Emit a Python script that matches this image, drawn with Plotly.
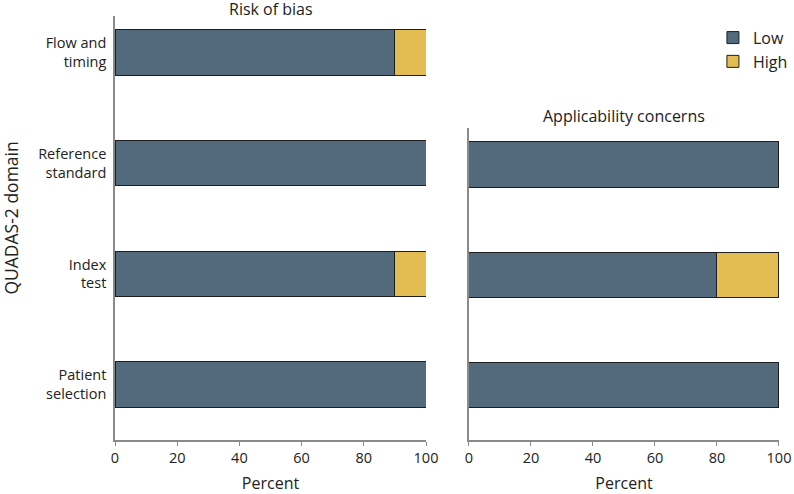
import plotly.graph_objects as go

domains_rob = ["Patient<br>selection", "Index<br>test", "Reference<br>standard", "Flow and<br>timing"]
rob_low = [100, 90, 100, 90]
rob_high = [0, 10, 0, 10]

domains_app = ["Patient<br>selection", "Index<br>test", "Reference<br>standard"]
app_low = [100, 80, 100]
app_high = [0, 20, 0]

x_ticks = [0, 20, 40, 60, 80, 100]

C_LOW = "#536a7c"
C_HIGH = "#e4bd52"
EDGE = "#1e1e1e"
FONT = "Open Sans"

fig = go.Figure()
fig.add_trace(go.Bar(y=domains_rob, x=rob_low, orientation="h", name="Low",
                     marker=dict(color=C_LOW, line=dict(color=EDGE, width=1)),
                     xaxis="x", yaxis="y", legendgroup="low"))
fig.add_trace(go.Bar(y=domains_rob, x=rob_high, orientation="h", name="High",
                     marker=dict(color=C_HIGH, line=dict(color=EDGE, width=1)),
                     xaxis="x", yaxis="y", legendgroup="high"))
fig.add_trace(go.Bar(y=domains_app, x=app_low, orientation="h", name="Low",
                     marker=dict(color=C_LOW, line=dict(color=EDGE, width=1)),
                     xaxis="x2", yaxis="y2", legendgroup="low", showlegend=False))
fig.add_trace(go.Bar(y=domains_app, x=app_high, orientation="h", name="High",
                     marker=dict(color=C_HIGH, line=dict(color=EDGE, width=1)),
                     xaxis="x2", yaxis="y2", legendgroup="high", showlegend=False))

axis_common = dict(showgrid=False, zeroline=False, showline=True, linecolor="#8a8a8a",
                   linewidth=1.5)
xcommon = dict(axis_common, range=[0, 100], tickvals=x_ticks, ticks="outside",
               ticklen=4, tickcolor="#8a8a8a",
               title=dict(text="Percent", font=dict(size=16, color="#222"), standoff=24),
               tickfont=dict(size=14.5, color="#222"))

fig.update_layout(
    width=794, height=494,
    margin=dict(l=115, r=15, t=16, b=54, autoexpand=False),
    paper_bgcolor="white", plot_bgcolor="white",
    barmode="stack", bargap=0.59,
    font=dict(family=FONT, size=14, color="#222"),
    xaxis=dict(xcommon, domain=[0, 0.4684], anchor="y"),
    xaxis2=dict(xcommon, domain=[0.5331, 1.0], anchor="y2"),
    yaxis=dict(axis_common, domain=[0, 1], range=[-0.5, 3.33], type="category",
               categoryorder="array", categoryarray=domains_rob,
               ticks="", ticklabelstandoff=4,
               tickfont=dict(size=14.5, color="#222"), anchor="x"),
    yaxis2=dict(axis_common, domain=[0, 0.7358], range=[-0.5, 2.33], type="category",
                categoryorder="array", categoryarray=domains_app,
                showticklabels=False, ticks="", anchor="x2"),
    legend=dict(x=0.9005, y=0.989, xanchor="left", yanchor="top", traceorder="normal",
                font=dict(size=16, color="#222"), bgcolor="rgba(0,0,0,0)",
                itemwidth=30, tracegroupgap=4),
    annotations=[
        dict(text="Risk of bias", xref="paper", yref="paper", x=0.4684 / 2, y=1.0,
             xanchor="center", yanchor="bottom", yshift=-6, showarrow=False,
             font=dict(size=16, color="#222")),
        dict(text="Applicability concerns", xref="paper", yref="paper",
             x=(0.5331 + 1.0) / 2, y=0.7358, xanchor="center", yanchor="bottom",
             yshift=-1, showarrow=False, font=dict(size=16, color="#222")),
        dict(text="QUADAS-2 domain", xref="paper", yref="paper", x=-0.157, y=0.524,
             xanchor="center", yanchor="middle", textangle=-90, showarrow=False,
             font=dict(size=17.5, color="#222")),
    ],
)

fig.write_html("out.html", config={"displayModeBar": False},
               post_script="document.body.style.margin='0';document.body.style.padding='0';")
